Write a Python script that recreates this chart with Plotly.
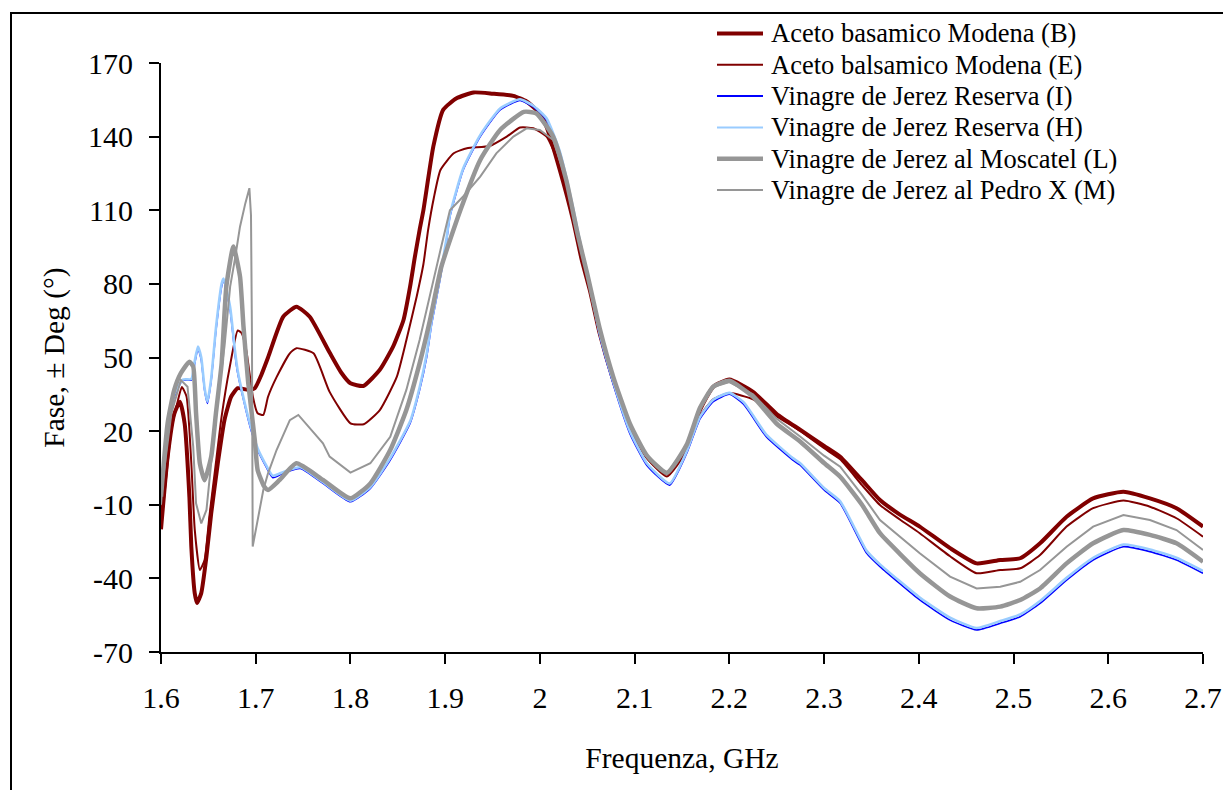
import plotly.graph_objects as go

# ---------------- data ----------------
series_names = [
    "Aceto basamico Modena (B)",
    "Aceto balsamico Modena (E)",
    "Vinagre de Jerez Reserva (I)",
    "Vinagre de Jerez Reserva (H)",
    "Vinagre de Jerez al Moscatel (L)",
    "Vinagre de Jerez al Pedro X (M)",
]

freq_B = [1.600, 1.607, 1.614, 1.620, 1.625, 1.630, 1.632, 1.6356, 1.638, 1.6425, 1.648, 1.653,
          1.660, 1.667, 1.674, 1.681, 1.692, 1.699, 1.706, 1.713, 1.729, 1.743, 1.757, 1.778,
          1.790, 1.800, 1.8136, 1.831, 1.845, 1.856, 1.863, 1.868, 1.873, 1.877, 1.8875, 1.898,
          1.912, 1.930, 1.950, 1.972, 1.986, 2.000, 2.007, 2.021, 2.035, 2.044, 2.053, 2.063,
          2.0775, 2.095, 2.113, 2.134, 2.155, 2.169, 2.183, 2.200, 2.225, 2.250, 2.275, 2.300,
          2.317, 2.340, 2.359, 2.380, 2.401, 2.433, 2.461, 2.486, 2.507, 2.528, 2.556, 2.584,
          2.616, 2.644, 2.672, 2.700]
phase_B = [-20, 9.6, 27, 32, 23, -7, -27, -46, -50, -46, -31, -13.5,
           7, 24.5, 34, 37.5, 36.8, 37.5, 43, 50, 66.6, 70.7, 66.6, 52,
           44, 39.5, 38.4, 45, 54.4, 65.3, 79, 91, 102, 110, 136, 151,
           155.6, 158, 157.5, 156.6, 154.3, 149.5, 144, 126.4, 106, 90, 77, 60,
           40.8, 21.8, 9.6, 2.8, 13.7, 28.6, 38.1, 41, 36, 27, 20.5, 14,
           9.6, 0, -8.1, -14, -18.9, -27.7, -33.9, -32.5, -31.8, -25.7, -14.9, -7.4,
           -4.7, -7.4, -11.4, -18.9]

freq_E = [1.600, 1.602, 1.611, 1.618, 1.622, 1.627, 1.632, 1.6356, 1.641, 1.646, 1.651, 1.657,
          1.664, 1.6725, 1.681, 1.685, 1.690, 1.697, 1.702, 1.708, 1.713, 1.722, 1.736, 1.743,
          1.761, 1.778, 1.800, 1.814, 1.831, 1.849, 1.859, 1.870, 1.877, 1.882, 1.888, 1.895,
          1.909, 1.923, 1.947, 1.965, 1.979, 1.993, 2.007, 2.021, 2.035, 2.044, 2.053, 2.063,
          2.0775, 2.095, 2.113, 2.134, 2.155, 2.169, 2.183, 2.200, 2.225, 2.250, 2.275, 2.300,
          2.317, 2.340, 2.359, 2.380, 2.401, 2.433, 2.461, 2.486, 2.507, 2.528, 2.556, 2.584,
          2.616, 2.644, 2.672, 2.700]
phase_E = [-18, -12, 20.5, 32.7, 38, 34, 7, -20, -36.6, -32.5, -15, 4,
           26, 46, 61, 60, 53, 34, 27.3, 26.6, 34, 42, 51.7, 53.8,
           51.7, 36, 23.2, 22.8, 28.6, 42.2, 57, 75, 88, 102, 115, 126.4,
           133.2, 135.3, 136.2, 140, 143.7, 143.4, 140, 128, 108, 92, 78, 61,
           41, 22, 9, 1.5, 12, 26, 33, 35.5, 33, 26, 20, 13,
           8.5, -2, -10.1, -16, -21.6, -31, -37.9, -36.6, -35.9, -30.5, -18.9, -11.4,
           -8.3, -10.8, -15.5, -23]

freq_I = [1.600, 1.607, 1.614, 1.623, 1.632, 1.6356, 1.639, 1.6425, 1.646, 1.649, 1.653, 1.658,
          1.664, 1.666, 1.673, 1.678, 1.681, 1.688, 1.695, 1.702, 1.709, 1.718, 1.730, 1.747,
          1.771, 1.800, 1.821, 1.842, 1.863, 1.873, 1.8805, 1.8858, 1.8945, 1.9016, 1.905, 1.919,
          1.937, 1.958, 1.979, 1.993, 2.007, 2.021, 2.035, 2.044, 2.053, 2.063, 2.0775, 2.095,
          2.113, 2.137, 2.155, 2.169, 2.183, 2.200, 2.215, 2.239, 2.267, 2.2745, 2.300, 2.317,
          2.345, 2.359, 2.401, 2.433, 2.461, 2.486, 2.507, 2.528, 2.556, 2.584, 2.616, 2.644,
          2.672, 2.700]
phase_I = [-4, 20.5, 34, 40.8, 40.8, 47.6, 53.8, 49, 36.8, 31.3, 40.8, 61,
           79, 81.6, 69.4, 51.8, 43.6, 31.3, 20.5, 12.3, 6.9, 1, 3, 4.8,
           -1.3, -8.8, -3.3, 8.2, 23.2, 36.8, 50.3, 63.9, 81.6, 98, 107.4, 126.4,
           140, 150.9, 154.7, 152.1, 146.8, 133.2, 110, 93, 78, 59, 39, 19,
           6, -2, 11, 25, 32, 35, 31, 17.7, 8.2, 6.2, -4, -9.4,
           -29.8, -35.2, -48.8, -57, -61, -58.3, -55.6, -50.2, -40.7, -32.5, -27.1, -29.1,
           -32.5, -37.9]

freq_H = [1.600, 1.607, 1.614, 1.623, 1.632, 1.6356, 1.639, 1.6425, 1.646, 1.649, 1.653, 1.658,
          1.664, 1.666, 1.673, 1.678, 1.681, 1.688, 1.695, 1.702, 1.709, 1.718, 1.730, 1.747,
          1.771, 1.800, 1.821, 1.842, 1.863, 1.873, 1.8805, 1.8858, 1.8945, 1.9016, 1.905, 1.919,
          1.937, 1.958, 1.979, 1.993, 2.007, 2.021, 2.035, 2.044, 2.053, 2.063, 2.0775, 2.095,
          2.113, 2.137, 2.155, 2.169, 2.183, 2.200, 2.215, 2.239, 2.267, 2.2745, 2.300, 2.317,
          2.345, 2.359, 2.401, 2.433, 2.461, 2.486, 2.507, 2.528, 2.556, 2.584, 2.616, 2.644,
          2.672, 2.700]
phase_H = [-3, 21.5, 35, 41, 41.2, 48.5, 54.5, 50, 37.5, 32, 41.5, 62,
           80, 82.2, 70.5, 53, 44.5, 32, 21.5, 13, 7.5, 1.8, 3.5, 5.3,
           -0.8, -8.3, -2.8, 9, 24, 37.8, 51.5, 65, 82.5, 99, 108.2, 127,
           140.6, 151.5, 155.2, 152.6, 147.5, 134, 111, 94, 79, 60, 40, 20,
           6.8, -1.3, 11.8, 25.8, 32.8, 35.6, 31.8, 18.6, 9, 7, -3.2, -8.6,
           -28.8, -34.3, -47.8, -56, -60.2, -57.4, -54.7, -49.2, -39.8, -31.6, -26.2, -28.2,
           -31.6, -37]

freq_L = [1.600, 1.607, 1.614, 1.621, 1.630, 1.634, 1.637, 1.641, 1.646, 1.653, 1.658, 1.664,
          1.669, 1.6764, 1.6834, 1.687, 1.692, 1.699, 1.702, 1.709, 1.713, 1.725, 1.743, 1.771,
          1.800, 1.821, 1.842, 1.859, 1.873, 1.884, 1.896, 1.916, 1.937, 1.958, 1.983, 1.996,
          2.014, 2.028, 2.040, 2.050, 2.063, 2.0775, 2.095, 2.113, 2.134, 2.155, 2.169, 2.183,
          2.200, 2.225, 2.250, 2.275, 2.300, 2.317, 2.340, 2.359, 2.380, 2.401, 2.433, 2.461,
          2.486, 2.507, 2.528, 2.556, 2.584, 2.616, 2.644, 2.672, 2.700]
phase_L = [-6.7, 23.2, 36.8, 43.6, 48.3, 46.3, 27.3, 6.9, 0, 9.6, 27.3, 47.6,
           79, 95.2, 83, 63, 40, 16.4, 4.2, -2.6, -4, 0, 6.9, 0.1,
           -7.4, -1.3, 12.3, 28.6, 47.6, 65.3, 87, 110, 130.5, 142.7, 150.1, 149.5,
           140, 122, 100, 84, 62, 42, 23, 10, 3, 14.5, 29.5, 38.1,
           40.5, 34, 23, 15.7, 7, 1.4, -10, -21.6, -30, -37.9, -47.4, -52.2,
           -51.5, -48.8, -44.1, -33.9, -25.7, -20.3, -22.3, -25.7, -33.2]

freq_M = [1.600, 1.602, 1.611, 1.621, 1.628, 1.634, 1.637, 1.6425, 1.648, 1.653, 1.660, 1.667,
          1.673, 1.678, 1.6834, 1.689, 1.6933, 1.6950, 1.6960, 1.6968, 1.700, 1.7024, 1.708, 1.713,
          1.722, 1.736, 1.745, 1.771, 1.778, 1.800, 1.821, 1.842, 1.859, 1.873, 1.884, 1.895,
          1.905, 1.919, 1.937, 1.954, 1.972, 1.986, 2.000, 2.014, 2.028, 2.040, 2.050, 2.063,
          2.0775, 2.095, 2.113, 2.134, 2.155, 2.169, 2.183, 2.200, 2.225, 2.250, 2.275, 2.300,
          2.317, 2.340, 2.359, 2.380, 2.401, 2.433, 2.461, 2.486, 2.507, 2.528, 2.556, 2.584,
          2.616, 2.644, 2.672, 2.700]
phase_M = [-10, 0, 27.3, 40.8, 38.1, 13.7, -9.4, -17.6, -12.1, 6.9, 34, 54.4,
           78.9, 90, 103.3, 112.8, 119, 108, 60, -27, -20, -15, -4, 2.8,
           12.3, 24.5, 26.6, 15, 9.6, 3.1, 6.9, 17.7, 36.8, 57.1, 74.8, 93.8,
           110, 115.6, 123.7, 133.2, 140, 143.4, 142.7, 138.6, 122, 101, 85, 62,
           42, 22.5, 9.5, 2.5, 14, 29, 38, 40, 35, 25, 17.7, 10,
           5.5, -6, -16.2, -23, -29.8, -39.3, -44.1, -43.4, -41.4, -36.6, -27.1, -18.9,
           -14.2, -16.2, -20.3, -28.4]

x_tick_values = [1.6, 1.7, 1.8, 1.9, 2.0, 2.1, 2.2, 2.3, 2.4, 2.5, 2.6, 2.7]
x_tick_labels = ["1.6", "1.7", "1.8", "1.9", "2", "2.1", "2.2", "2.3", "2.4", "2.5", "2.6", "2.7"]
y_tick_values = [-70, -40, -10, 20, 50, 80, 110, 140, 170]
y_tick_labels = ["-70", "-40", "-10", "20", "50", "80", "110", "140", "170"]

# ---------------- styling ----------------
series_x = [freq_B, freq_E, freq_I, freq_H, freq_L, freq_M]
series_y = [phase_B, phase_E, phase_I, phase_H, phase_L, phase_M]
series_colors = ["#800000", "#800000", "#0000FF", "#99CCFF", "#969696", "#969696"]
series_widths = [4, 2, 1.6, 2.6, 4.5, 2]
series_shapes = ["spline", "spline", "spline", "spline", "spline", "linear"]
legend_widths = [4, 2, 2, 2, 4.5, 2]

FONT = "Liberation Serif"
W, H = 1223, 790
ML, MR, MT, MB = 161, 20, 63, 138
PW = W - ML - MR
PH = H - MT - MB


def px_to_paper_x(px):
    return (px - ML) / PW


def px_to_paper_y(py):
    return (H - MB - py) / PH


fig = go.Figure()
for xs, ys, name, col, lw, shp in zip(series_x, series_y, series_names, series_colors,
                                       series_widths, series_shapes):
    fig.add_trace(go.Scatter(x=xs, y=ys, mode="lines", name=name,
                             line=dict(color=col, width=lw, shape=shp, smoothing=0.5),
                             showlegend=False))

shapes = [
    # outer frame of the chart
    dict(type="rect", xref="paper", yref="paper",
         x0=px_to_paper_x(11), x1=px_to_paper_x(1240),
         y0=px_to_paper_y(810), y1=px_to_paper_y(13),
         line=dict(color="black", width=2), fillcolor="rgba(0,0,0,0)", layer="below"),
]
annotations = []
leg_top, leg_step = 33.5, 31.3
for i, (name, col, lw) in enumerate(zip(series_names, series_colors, legend_widths)):
    yp = px_to_paper_y(leg_top + i * leg_step)
    shapes.append(dict(type="line", xref="paper", yref="paper",
                       x0=px_to_paper_x(717), x1=px_to_paper_x(763), y0=yp, y1=yp,
                       line=dict(color=col, width=lw)))
    annotations.append(dict(xref="paper", yref="paper", x=px_to_paper_x(769), y=yp,
                            xanchor="left", yanchor="middle", showarrow=False,
                            text=name, font=dict(family=FONT, size=26.5, color="black")))

axis_common = dict(showline=True, linecolor="black", linewidth=2, ticks="outside",
                   ticklen=10, tickwidth=2, tickcolor="black", showgrid=False,
                   zeroline=False, tickfont=dict(family=FONT, size=30, color="black"))

fig.update_layout(
    width=W, height=H, margin=dict(l=ML, r=MR, t=MT, b=MB, autoexpand=False),
    paper_bgcolor="white", plot_bgcolor="white",
    font=dict(family=FONT, color="black"),
    xaxis=dict(range=[1.6, 2.7], tickmode="array", tickvals=x_tick_values,
               ticktext=x_tick_labels, automargin=False, ticklabelstandoff=8,
               title=dict(text="Frequenza, GHz", font=dict(family=FONT, size=29.5), standoff=34),
               **axis_common),
    yaxis=dict(range=[-70, 170], tickmode="array", tickvals=y_tick_values,
               ticktext=y_tick_labels, automargin=False, ticklabelstandoff=10,
               title=dict(text="Fase, ± Deg (°)", font=dict(family=FONT, size=29.5), standoff=15),
               **axis_common),
    shapes=shapes, annotations=annotations, showlegend=False,
)

fig.write_html("out.html", config={"displayModeBar": False},
               post_script="document.body.style.margin='0';")
